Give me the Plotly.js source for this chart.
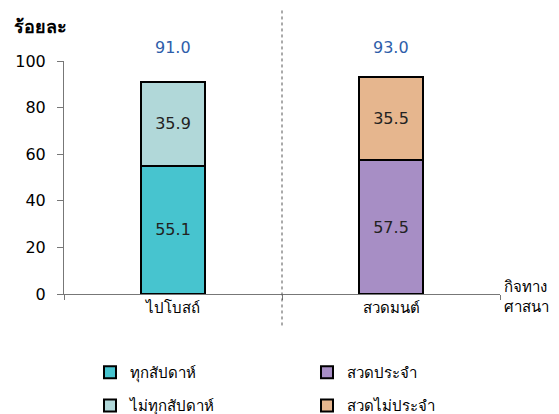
<!DOCTYPE html>
<html>
<head>
<meta charset="utf-8">
<script src="https://cdn.plot.ly/plotly-3.0.1.min.js"></script>
<style>html,body{margin:0;padding:0;background:#fff}</style>
</head>
<body>
<div id="chart" style="width:559px;height:414px"></div>
<script>
const categories = ["ไปโบสถ์", "สวดมนต์"];
const weekly = [55.1, null];        // ทุกสัปดาห์
const notWeekly = [35.9, null];     // ไม่ทุกสัปดาห์
const regular = [null, 57.5];       // สวดประจำ
const irregular = [null, 35.5];     // สวดไม่ประจำ
const totals = ["91.0", "93.0"];
const yTicks = [0, 20, 40, 60, 80, 100];

const FONT = "Tahoma, 'DejaVu Sans', 'Noto Sans', sans-serif";

function barTrace(name, vals, color, legendId, rank) {
  return {
    type: "bar",
    name: name,
    x: categories,
    y: vals,
    width: 0.29,
    legend: legendId,
    legendrank: rank,
    marker: { color: color, line: { color: "#000", width: 2 } },
    text: vals.map(v => v == null ? "" : v.toFixed(1)),
    textposition: "inside",
    insidetextanchor: "middle",
    textangle: 0,
    textfont: { family: FONT, size: 16, color: "#222" },
    hoverinfo: "skip"
  };
}

const data = [
  barTrace("ทุกสัปดาห์", weekly, "#47c4cf", "legend", 1),
  barTrace("ไม่ทุกสัปดาห์", notWeekly, "#b1d8d9", "legend2", 1),
  barTrace("สวดประจำ", regular, "#a78ec5", "legend", 2),
  barTrace("สวดไม่ประจำ", irregular, "#e6b68e", "legend2", 2)
];

const annotations = categories.map((c, i) => ({
  xref: "x", yref: "paper", x: c, y: 1.056, yanchor: "middle",
  text: totals[i], showarrow: false,
  font: { family: FONT, size: 16, color: "#2e5eaa" }
}));
annotations.push({
  xref: "paper", yref: "paper", x: -0.12, y: 1.146, xanchor: "left", yanchor: "middle",
  text: "<b>ร้อยละ</b>", showarrow: false, font: { family: FONT, size: 18, color: "#000" }
});
annotations.push({
  xref: "paper", yref: "paper", x: 1.005, y: -0.015, xanchor: "left", yanchor: "middle",
  align: "left", text: "กิจทาง<br>ศาสนา", showarrow: false,
  font: { family: FONT, size: 15, color: "#000" }
});

function legendRow(yTop) {
  return {
    orientation: "h",
    xref: "container", yref: "container",
    x: 0.161, xanchor: "left",
    y: yTop, yanchor: "top",
    entrywidth: 172, entrywidthmode: "pixels",
    traceorder: "normal",
    font: { family: FONT, size: 15, color: "#000" },
    bgcolor: "rgba(0,0,0,0)"
  };
}

const layout = {
  width: 559, height: 414,
  margin: { l: 64, r: 59, t: 61, b: 120 },
  paper_bgcolor: "#fff", plot_bgcolor: "#fff",
  barmode: "stack",
  showlegend: true,
  font: { family: FONT, size: 15, color: "#000" },
  xaxis: {
    type: "category",
    range: [-0.5, 1.5],
    showline: true, linecolor: "#777", linewidth: 1,
    ticks: "outside", tickson: "boundaries", ticklen: 5, tickcolor: "#777",
    showgrid: false, zeroline: false,
    tickfont: { family: FONT, size: 15, color: "#000" }
  },
  yaxis: {
    range: [0, 100],
    tickvals: yTicks,
    showline: true, linecolor: "#777", linewidth: 1,
    ticks: "outside", ticklen: 6, tickcolor: "#777",
    ticklabelstandoff: 8,
    showgrid: false, zeroline: false,
    tickfont: { family: FONT, size: 16, color: "#000" }
  },
  legend: legendRow(0.140),
  legend2: legendRow(0.060),
  shapes: [{
    type: "line", xref: "x", yref: "paper",
    x0: 0.5, x1: 0.5, y0: -0.135, y1: 1.22,
    line: { color: "#555", width: 1, dash: "dot" }
  }],
  annotations: annotations
};

Plotly.newPlot("chart", data, layout, { displayModeBar: false, staticPlot: true });
</script>
</body>
</html>
